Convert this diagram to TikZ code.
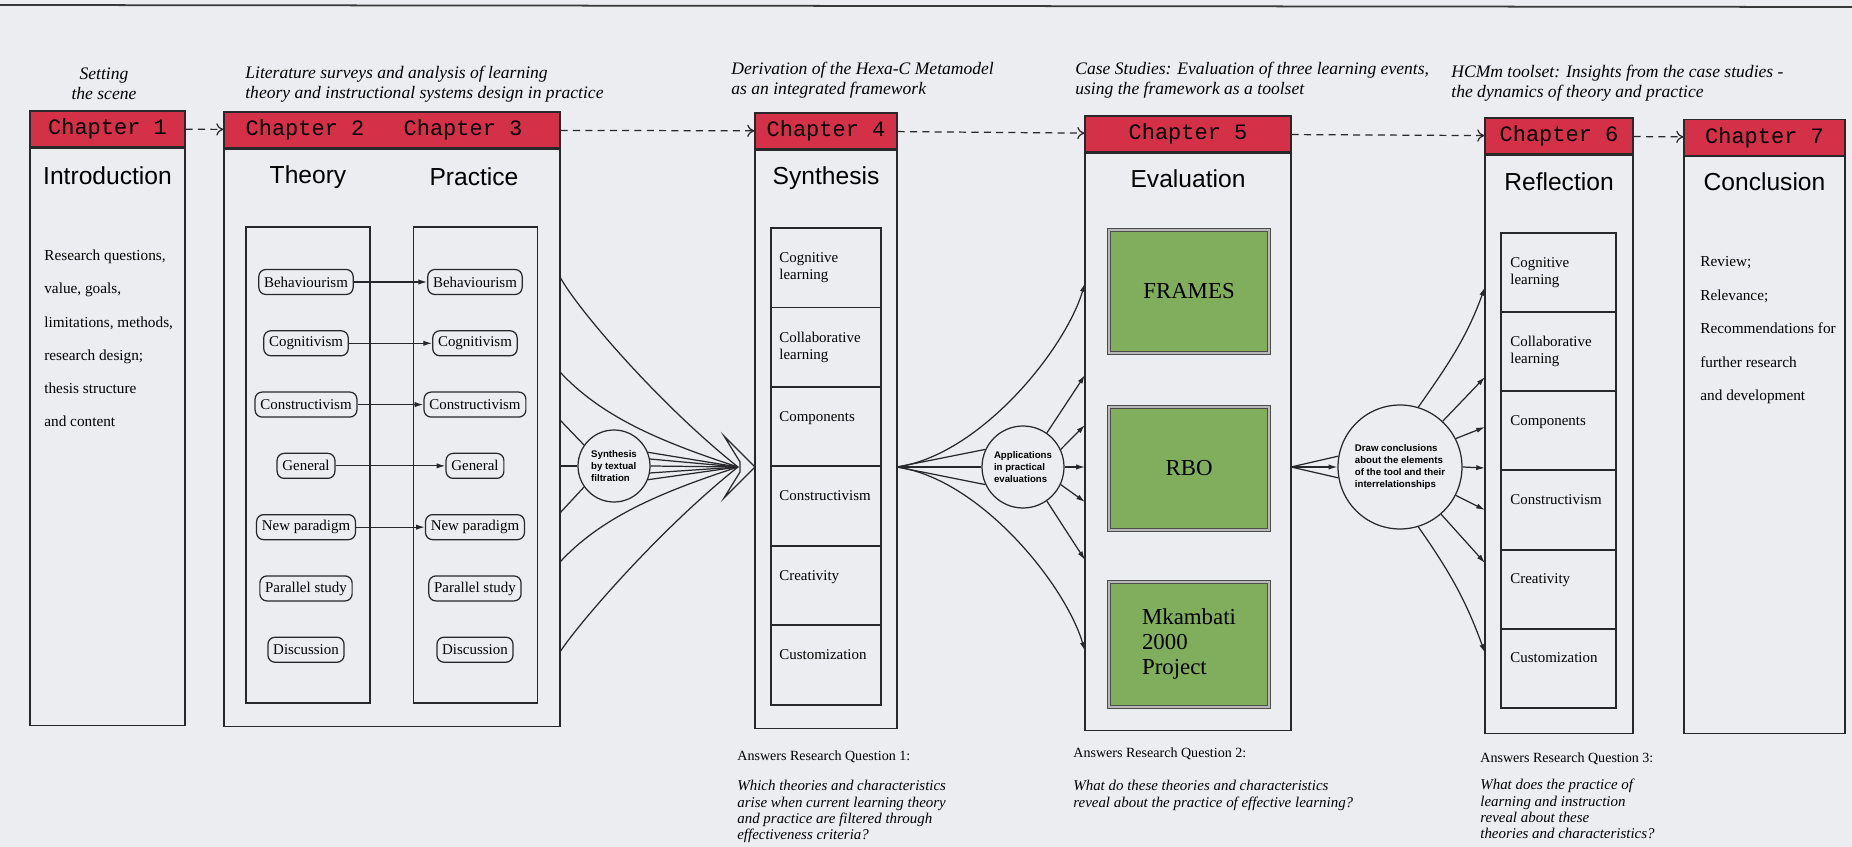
\documentclass[tikz,border=0pt]{standalone}
\usepackage{fontspec}
\setmainfont{Liberation Serif}
\setsansfont{Liberation Sans}
\setmonofont{Liberation Mono}
\usetikzlibrary{positioning,arrows.meta}

\definecolor{paper}{RGB}{236,237,240}
\definecolor{ink}{RGB}{40,40,42}
\definecolor{chapred}{RGB}{212,48,72}
\definecolor{casegreen}{RGB}{128,174,92}

\tikzset{
  chaphead/.style={draw=ink, line width=0.8pt, fill=chapred, minimum height=0.72cm, inner sep=0pt, font=\fontsize{12.5}{14}\ttfamily},
  chaptag/.style={inner sep=0pt, font=\fontsize{12.5}{14}\ttfamily},
  chapbody/.style={draw=ink, line width=0.7pt, inner sep=0pt, anchor=north},
  heading/.style={inner sep=0pt, font=\fontsize{14}{16}\sffamily},
  stage/.style={inner sep=0pt, align=left, font=\fontsize{10}{11.4}\itshape},
  note/.style={anchor=north west, inner sep=0pt, align=left, font=\fontsize{8.7}{18.8}\selectfont},
  topic/.style={draw=ink, line width=0.7pt, rounded corners=4pt, minimum height=0.5cm, inner xsep=3pt, inner ysep=0pt, font=\fontsize{8.5}{10}\selectfont},
  studybox/.style={draw=ink, line width=0.7pt, minimum width=2.48cm, minimum height=9.52cm},
  cell/.style={draw=ink, line width=1.1pt, inner sep=0pt},
  celltext/.style={anchor=north west, inner sep=0pt, align=left, font=\fontsize{8.5}{9.7}\selectfont},
  case/.style={draw=gray!60!black, double=gray!55, double distance=1pt, line width=0.6pt, fill=casegreen, minimum width=3.2cm, minimum height=2.46cm, inner sep=0pt, font=\fontsize{13}{14.2}\selectfont},
  hub/.style={circle, draw=ink, line width=0.7pt, inner sep=0pt, align=left, font=\fontsize{5.5}{6.8}\sffamily\bfseries},
  answer/.style={anchor=base west, inner sep=0pt, font=\fontsize{8}{9}\selectfont},
  question/.style={anchor=north west, inner sep=0pt, align=left, font=\fontsize{8.5}{9.3}\itshape},
  flow/.style={draw=ink, line width=0.7pt, dash pattern=on 4pt off 3pt, -{To[length=4pt,width=7pt]}},
  feed/.style={draw=ink, line width=0.7pt, -{Latex[length=5pt,width=3pt]}},
  fan/.style={draw=ink, line width=0.7pt}
}

\begin{document}
\begin{tikzpicture}[x=0.02cm, y=0.02cm, node distance=1.226cm]

  \fill[paper] (0,0) rectangle (1852,-847);
  \useasboundingbox (0,0) rectangle (1852,-847);
  \draw[gray!45!black, line width=1pt] (0,-5) -- (1852,-7);

  % stage headings
  \node[stage, align=center] (scene) at (104,-84) {Setting\\the scene};
  \node[stage, anchor=north west] (survey) at (245,-66) {Literature surveys and analysis of learning\\theory and instructional systems design in practice};
  \node[stage, anchor=north west] (derive) at (731,-62) {Derivation of the Hexa-C Metamodel\\as an integrated framework};
  \node[stage, anchor=north west] (cases) at (1075,-62) {Case Studies: Evaluation of three learning events,\\using the framework as a toolset};
  \node[stage, anchor=north west] (insight) at (1451,-65) {HCMm toolset: Insights from the case studies -\\the dynamics of theory and practice};

  % chapter frames
  \node[chaphead, minimum width=3.10cm] (ch1) at (107.5,-129) {Chapter 1};
  \node[chapbody, minimum width=3.10cm, minimum height=11.54cm] (intro) at (ch1.south) {};
  \node[chaphead, minimum width=6.72cm] (ch23) at (392,-130) {};
  \node[chaptag] (ch2) at (305,-130) {Chapter 2};
  \node[chaptag] (ch3) at (463,-130) {Chapter 3};
  \node[chapbody, minimum width=6.72cm, minimum height=11.54cm] (lit) at (ch23.south) {};
  \node[chaphead, minimum width=2.84cm] (ch4) at (826,-131) {Chapter 4};
  \node[chapbody, minimum width=2.84cm, minimum height=11.56cm] (synth) at (ch4.south) {};
  \node[chaphead, minimum width=4.12cm] (ch5) at (1188,-134) {Chapter 5};
  \node[chapbody, minimum width=4.12cm, minimum height=11.54cm] (evalu) at (ch5.south) {};
  \node[chaphead, minimum width=2.96cm] (ch6) at (1559,-136) {Chapter 6};
  \node[chapbody, minimum width=2.96cm, minimum height=11.56cm] (refl) at (ch6.south) {};
  \node[chaphead, minimum width=3.22cm] (ch7) at (1764.5,-137.5) {Chapter 7};
  \node[chapbody, minimum width=3.22cm, minimum height=11.54cm] (concn) at (ch7.south) {};

  \draw[flow] (ch1) -- (ch23);
  \draw[flow] (ch23) -- (ch4);
  \draw[flow] (ch4) -- (ch5);
  \draw[flow] (ch5) -- (ch6);
  \draw[flow] (ch6) -- (ch7);

  \node[heading] (tintro) at (107.5,-176) {Introduction};
  \node[heading] (ttheory) at (308,-177) {Theory};
  \node[heading] (tpract) at (474,-177) {Practice};
  \node[heading] (tsynth) at (826,-178) {Synthesis};
  \node[heading] (teval) at (1188,-179) {Evaluation};
  \node[heading] (trefl) at (1559,-182) {Reflection};
  \node[heading] (tconc) at (1764.5,-182) {Conclusion};

  % chapter 1 and 7 notes
  \node[note] (why) at (44,-250) {Research questions,\\value, goals,\\limitations, methods,\\research design;\\thesis structure\\and content};
  \node[note, font=\fontsize{8.7}{19.1}\selectfont] (next) at (1700,-256) {Review;\\Relevance;\\Recommendations for\\further research\\and development};

  % theory and practice
  \node[studybox] (tcol) at (308,-465) {};
  \node[studybox] (pcol) at (475.5,-465) {};

  \node[topic] (tb1) at (306,-282) {Behaviourism};
  \node[topic] (tb2) [below of=tb1] {Cognitivism};
  \node[topic] (tb3) [below of=tb2] {Constructivism};
  \node[topic] (tb4) [below of=tb3] {General};
  \node[topic] (tb5) [below of=tb4] {New paradigm};
  \node[topic] (tb6) [below of=tb5] {Parallel study};
  \node[topic] (tb7) [below of=tb6] {Discussion};

  \node[topic] (pb1) [right of=tb1, node distance=3.38cm] {Behaviourism};
  \node[topic] (pb2) [right of=tb2, node distance=3.38cm] {Cognitivism};
  \node[topic] (pb3) [right of=tb3, node distance=3.38cm] {Constructivism};
  \node[topic] (pb4) [right of=tb4, node distance=3.38cm] {General};
  \node[topic] (pb5) [right of=tb5, node distance=3.38cm] {New paradigm};
  \node[topic] (pb6) [right of=tb6, node distance=3.38cm] {Parallel study};
  \node[topic] (pb7) [right of=tb7, node distance=3.38cm] {Discussion};

  \draw[feed] (tb1) -- (pb1);
  \draw[feed] (tb2) -- (pb2);
  \draw[feed] (tb3) -- (pb3);
  \draw[feed] (tb4) -- (pb4);
  \draw[feed] (tb5) -- (pb5);

  % synthesis cells
  \node[cell, minimum width=2.2cm, minimum height=1.59cm] (k1) at (826,-267.75) {};
  \node[cell, minimum width=2.2cm, minimum height=1.59cm] (k2) [below of=k1, node distance=1.59cm] {};
  \node[cell, minimum width=2.2cm, minimum height=1.59cm] (k3) [below of=k2, node distance=1.59cm] {};
  \node[cell, minimum width=2.2cm, minimum height=1.59cm] (k4) [below of=k3, node distance=1.59cm] {};
  \node[cell, minimum width=2.2cm, minimum height=1.59cm] (k5) [below of=k4, node distance=1.59cm] {};
  \node[cell, minimum width=2.2cm, minimum height=1.59cm] (k6) [below of=k5, node distance=1.59cm] {};
  \node[celltext] (k1t) at ([xshift=0.18cm, yshift=-0.5cm]k1.north west) {Cognitive\\learning};
  \node[celltext] (k2t) at ([xshift=0.18cm, yshift=-0.5cm]k2.north west) {Collaborative\\learning};
  \node[celltext] (k3t) at ([xshift=0.18cm, yshift=-0.5cm]k3.north west) {Components};
  \node[celltext] (k4t) at ([xshift=0.18cm, yshift=-0.5cm]k4.north west) {Constructivism};
  \node[celltext] (k5t) at ([xshift=0.18cm, yshift=-0.5cm]k5.north west) {Creativity};
  \node[celltext] (k6t) at ([xshift=0.18cm, yshift=-0.5cm]k6.north west) {Customization};

  % case studies
  \node[case] (frames) at (1189,-291.5) {FRAMES};
  \node[case] (rbo) [below of=frames, node distance=3.54cm] {RBO};
  \node[case, align=left, minimum height=2.5cm] (mkam) [below of=rbo, node distance=3.52cm] {Mkambati\\2000\\Project};

  % reflection cells
  \node[cell, minimum width=2.3cm, minimum height=1.583cm] (r1) at (1558.5,-272.6) {};
  \node[cell, minimum width=2.3cm, minimum height=1.583cm] (r2) [below of=r1, node distance=1.583cm] {};
  \node[cell, minimum width=2.3cm, minimum height=1.583cm] (r3) [below of=r2, node distance=1.583cm] {};
  \node[cell, minimum width=2.3cm, minimum height=1.583cm] (r4) [below of=r3, node distance=1.583cm] {};
  \node[cell, minimum width=2.3cm, minimum height=1.583cm] (r5) [below of=r4, node distance=1.583cm] {};
  \node[cell, minimum width=2.3cm, minimum height=1.583cm] (r6) [below of=r5, node distance=1.583cm] {};
  \node[celltext] (r1t) at ([xshift=0.2cm, yshift=-0.5cm]r1.north west) {Cognitive\\learning};
  \node[celltext] (r2t) at ([xshift=0.2cm, yshift=-0.5cm]r2.north west) {Collaborative\\learning};
  \node[celltext] (r3t) at ([xshift=0.2cm, yshift=-0.5cm]r3.north west) {Components};
  \node[celltext] (r4t) at ([xshift=0.2cm, yshift=-0.5cm]r4.north west) {Constructivism};
  \node[celltext] (r5t) at ([xshift=0.2cm, yshift=-0.5cm]r5.north west) {Creativity};
  \node[celltext] (r6t) at ([xshift=0.2cm, yshift=-0.5cm]r6.north west) {Customization};

  % hubs
  \node[hub, minimum size=1.44cm] (filt) at (614,-466) {Synthesis\\by textual\\filtration};
  \node[hub, minimum size=1.64cm] (appl) at (1023,-467) {Applications\\in practical\\evaluations};
  \node[hub, minimum size=2.48cm] (concl) at (1400,-467) {Draw conclusions\\about the elements\\of the tool and their\\interrelationships};

  % synthesis fan
  \coordinate (f1) at (560,-277);
  \coordinate (f2) at (560,-372);
  \coordinate (f3) at (560,-420);
  \coordinate (f4) at (560,-466);
  \coordinate (f5) at (560,-513);
  \coordinate (f6) at (560,-562);
  \coordinate (f7) at (560,-652);
  \coordinate (fend) at (738,-467);
  \draw[fan] (f1) .. controls (578,-310) and (660,-405) .. (fend);
  \draw[fan] (f2) .. controls (600,-415) and (655,-440) .. (fend);
  \draw[fan] (f3) -- (filt.145);
  \draw[fan] (f4) -- (filt.west);
  \draw[fan] (f5) -- (filt.215);
  \draw[fan] (f6) .. controls (600,-519) and (655,-494) .. (fend);
  \draw[fan] (f7) .. controls (578,-624) and (660,-529) .. (fend);
  \draw[fan] (filt.22) -- (fend);
  \draw[fan] (filt.11) -- (fend);
  \draw[fan] (filt.east) -- (fend);
  \draw[fan] (filt.-11) -- (fend);
  \draw[fan] (filt.-22) -- (fend);
  \draw[fan, fill=paper] (724,-436) -- (755,-467) -- (724,-498) -- (740,-472) -- (740,-462) -- cycle;

  % application fan
  \coordinate (ast) at (897,-467);
  \coordinate (a1) at (1085,-283);
  \coordinate (a2) at (1085,-375);
  \coordinate (a3) at (1085,-425);
  \coordinate (a4) at (1085,-467);
  \coordinate (a5) at (1085,-502);
  \coordinate (a6) at (1085,-560);
  \coordinate (a7) at (1085,-651);
  \draw[fan] (ast) -- (appl.155);
  \draw[fan] (ast) -- (appl.west);
  \draw[fan] (ast) -- (appl.205);
  \draw[feed] (ast) .. controls (980,-455) and (1065,-350) .. (a1);
  \draw[feed] (appl.55) -- (a2);
  \draw[feed] (appl.25) -- (a3);
  \draw[feed] (appl.east) -- (a4);
  \draw[feed] (appl.-25) -- (a5);
  \draw[feed] (appl.-55) -- (a6);
  \draw[feed] (ast) .. controls (980,-479) and (1065,-584) .. (a7);

  % conclusion fan
  \coordinate (cst) at (1291,-467);
  \coordinate (c1) at (1485,-287);
  \coordinate (c2) at (1485,-377);
  \coordinate (c3) at (1485,-427);
  \coordinate (c4) at (1485,-468);
  \coordinate (c5) at (1485,-510);
  \coordinate (c6) at (1485,-563);
  \coordinate (c7) at (1485,-653);
  \draw[fan] (cst) -- (concl.170);
  \draw[feed] (cst) -- (concl.west);
  \draw[fan] (cst) -- (concl.190);
  \draw[feed] (concl.73) to[out=55, in=-110] (c1);
  \draw[feed] (concl.47) -- (c2);
  \draw[feed] (concl.27) -- (c3);
  \draw[feed] (concl.east) -- (c4);
  \draw[feed] (concl.-27) -- (c5);
  \draw[feed] (concl.-49) -- (c6);
  \draw[feed] (concl.-73) to[out=-55, in=110] (c7);

  % research questions
  \node[answer] (q1) at (737,-760) {Answers Research Question 1:};
  \node[question] (q1t) at (737,-780) {Which theories and characteristics\\arise when current learning theory\\and practice are filtered through\\effectiveness criteria?};
  \node[answer] (q2) at (1073,-757) {Answers Research Question 2:};
  \node[question] (q2t) at (1073,-780) {What do these theories and characteristics\\reveal about the practice of effective learning?};
  \node[answer] (q3) at (1480,-762) {Answers Research Question 3:};
  \node[question] (q3t) at (1480,-779) {What does the practice of\\learning and instruction\\reveal about these\\theories and characteristics?};

\end{tikzpicture}
\end{document}
